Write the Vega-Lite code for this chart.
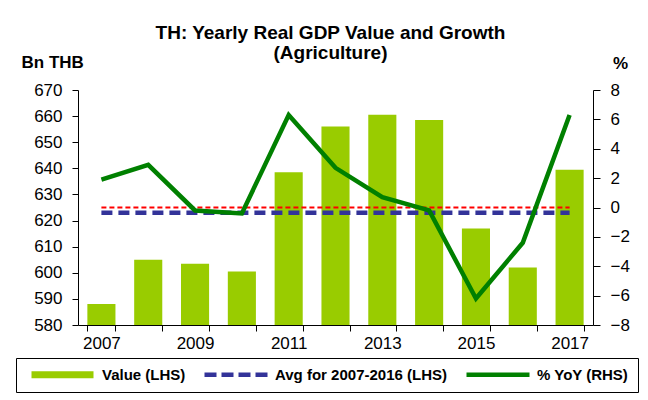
{
  "$schema": "https://vega.github.io/schema/vega-lite/v6.json",
  "width": 515,
  "height": 235,
  "autosize": {"type": "none"},
  "padding": {"left": 78, "top": 90, "right": 55, "bottom": 75},
  "background": "white",
  "config": {
    "font": "Liberation Sans",
    "view": {"stroke": null},
    "axis": {"labelColor": "black", "labelFontSize": 17, "domainColor": "black", "tickColor": "black", "grid": false, "titleColor": "black", "labelOverlap": false}
  },
  "title": {
    "text": ["TH: Yearly Real GDP Value and Growth", "(Agriculture)"],
    "fontSize": 19, "fontWeight": "bold", "color": "black",
    "anchor": "middle", "dx": -5, "offset": -10, "lineHeight": 20
  },
  "data": {
    "values": [
      {"year": 2007, "value": 588.0, "yoy": 1.9, "avg": 623.0},
      {"year": 2008, "value": 605.0, "yoy": 2.9, "avg": 623.0},
      {"year": 2009, "value": 603.5, "yoy": -0.2, "avg": 623.0},
      {"year": 2010, "value": 600.5, "yoy": -0.4, "avg": 623.0},
      {"year": 2011, "value": 638.5, "yoy": 6.3, "avg": 623.0},
      {"year": 2012, "value": 656.0, "yoy": 2.7, "avg": 623.0},
      {"year": 2013, "value": 660.5, "yoy": 0.7, "avg": 623.0},
      {"year": 2014, "value": 658.5, "yoy": -0.2, "avg": 623.0},
      {"year": 2015, "value": 617.0, "yoy": -6.2, "avg": 623.0},
      {"year": 2016, "value": 602.0, "yoy": -2.4, "avg": 623.0},
      {"year": 2017, "value": 639.5, "yoy": 6.3, "avg": 623.0}
    ]
  },
  "encoding": {
    "x": {
      "field": "year", "type": "ordinal",
      "scale": {"paddingInner": 0.4, "paddingOuter": 0.2},
      "axis": {
        "title": null, "labelAngle": 0, "tickBand": "extent", "tickSize": 6, "labelPadding": 4,
        "labelExpr": "datum.value % 2 == 1 ? datum.label : ''"
      }
    }
  },
  "layer": [
    {
      "layer": [
        {
          "mark": {"type": "bar", "clip": true, "color": "#99CC00"},
          "encoding": {
            "y": {
              "field": "value", "type": "quantitative",
              "scale": {"domain": [580, 670], "nice": false, "zero": false},
              "axis": {
                "values": [580, 590, 600, 610, 620, 630, 640, 650, 660, 670],
                "labelOverlap": false,
                "tickSize": 6, "labelPadding": 10,
                "title": "Bn THB", "titleAngle": 0, "titleAlign": "left", "titleBaseline": "alphabetic",
                "titleX": -57, "titleY": -23, "titleFontSize": 17, "titleFontWeight": "bold"
              }
            },
            "color": {
              "datum": "Value (LHS)", "type": "nominal",
              "scale": {
                "domain": ["Value (LHS)", "Avg for 2007-2016 (LHS)", "% YoY (RHS)"],
                "range": ["#99CC00", "#333399", "#008000"]
              },
              "legend": {
                "title": " ", "titleOrient": "left", "titlePadding": 4, "titleFontSize": 15,
                "orient": "none", "direction": "horizontal",
                "legendX": -62, "legendY": 268,
                "strokeColor": "black", "padding": 9, "columnPadding": 16,
                "symbolSize": 100, "labelOffset": 58,
                "labelFontSize": 15, "labelFontWeight": "bold", "labelColor": "black",
                "labelLimit": 300,
                "encode": {
                  "symbols": {
                    "update": {
                      "shape": {"signal": "datum.value === 'Value (LHS)' ? 'M-1,-0.7H11.4V0.7H-1Z' : (datum.value === '% YoY (RHS)' ? 'M-1,-0.45H11.6V0.45H-1Z' : 'M-1,-0.45H1.4V0.45H-1Z M2.4,-0.45H4.8V0.45H2.4Z M5.8,-0.45H8.2V0.45H5.8Z M9.2,-0.45H11.6V0.45H9.2Z')"},
                      "fill": {"signal": "scale('color', datum.value)"},
                      "fillOpacity": {"value": 1},
                      "opacity": {"value": 1},
                      "stroke": {"value": "transparent"},
                      "strokeWidth": {"value": 0}
                    }
                  }
                }
              }
            }
          }
        },
        {
          "mark": {"type": "line", "strokeWidth": 4.5, "strokeDash": [11, 6]},
          "encoding": {
            "y": {
              "field": "avg", "type": "quantitative",
              "axis": {
                "values": [580, 590, 600, 610, 620, 630, 640, 650, 660, 670],
                "labelOverlap": false,
                "tickSize": 6, "labelPadding": 10,
                "title": "Bn THB", "titleAngle": 0, "titleAlign": "left", "titleBaseline": "alphabetic",
                "titleX": -57, "titleY": -23, "titleFontSize": 17, "titleFontWeight": "bold"
              }
            },
            "color": {"datum": "Avg for 2007-2016 (LHS)", "type": "nominal"}
          }
        }
      ]
    },
    {
      "layer": [
        {
          "mark": {"type": "line", "strokeWidth": 1.8, "strokeDash": [5, 3], "color": "#FF0000"},
          "encoding": {
            "y": {
              "datum": 0, "type": "quantitative",
              "axis": {
                "orient": "right",
                "values": [-8, -6, -4, -2, 0, 2, 4, 6, 8],
                "labelOverlap": false,
                "tickSize": 7, "labelPadding": 10,
                "title": "%", "titleAngle": 0, "titleAlign": "center", "titleBaseline": "alphabetic",
                "titleX": 27, "titleY": -22, "titleFontSize": 17, "titleFontWeight": "bold"
              }
            }
          }
        },
        {
          "mark": {"type": "line", "strokeWidth": 4.5},
          "encoding": {
            "y": {
              "field": "yoy", "type": "quantitative",
              "scale": {"domain": [-8, 8], "nice": false},
              "axis": {
                "orient": "right",
                "values": [-8, -6, -4, -2, 0, 2, 4, 6, 8],
                "labelOverlap": false,
                "tickSize": 7, "labelPadding": 10,
                "title": "%", "titleAngle": 0, "titleAlign": "center", "titleBaseline": "alphabetic",
                "titleX": 27, "titleY": -22, "titleFontSize": 17, "titleFontWeight": "bold"
              }
            },
            "color": {"datum": "% YoY (RHS)", "type": "nominal"}
          }
        }
      ]
    }
  ],
  "resolve": {"scale": {"y": "independent"}}
}
